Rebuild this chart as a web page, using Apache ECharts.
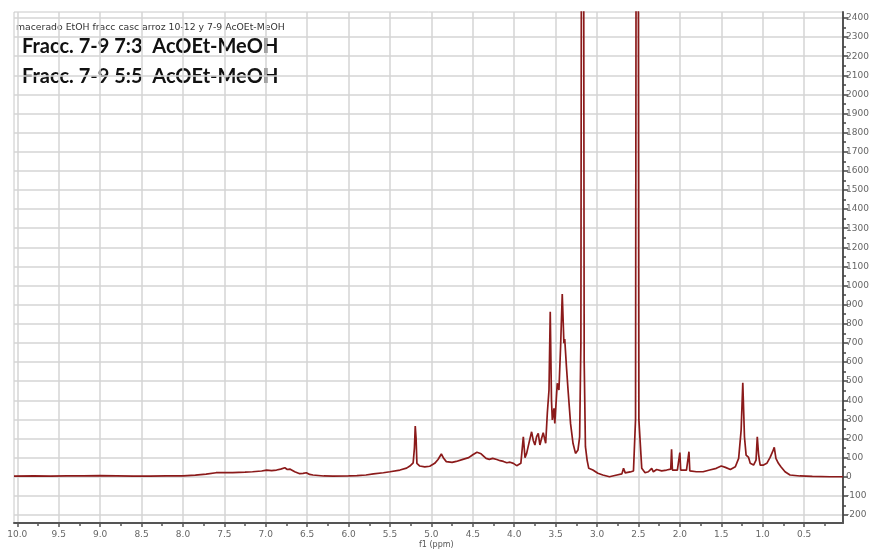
<!DOCTYPE html>
<html>
<head>
<meta charset="utf-8">
<script src="https://cdn.jsdelivr.net/npm/echarts@6/dist/echarts.min.js"></script>
<style>html,body{margin:0;padding:0;background:#fff;}#c{width:876px;height:550px;}</style>
</head>
<body>
<div id="c"></div>
<script>
// Chemical shift (ppm) and intensity
var shifts = [10.04,9.8,9.6,9.4,9.2,9.0,8.8,8.6,8.4,8.2,8.0,7.85,7.72,7.60,7.40,7.25,7.16,7.05,6.99,6.93,6.87,6.82,6.77,6.74,6.71,6.65,6.59,6.55,6.51,6.47,6.43,6.30,6.19,6.00,5.90,5.79,5.70,5.58,5.50,5.38,5.30,5.26,5.22,5.205,5.195,5.185,5.175,5.14,5.08,5.02,4.96,4.92,4.88,4.85,4.82,4.75,4.70,4.62,4.55,4.50,4.45,4.40,4.34,4.30,4.26,4.21,4.17,4.13,4.09,4.05,4.01,3.97,3.95,3.92,3.89,3.87,3.85,3.82,3.79,3.77,3.75,3.73,3.71,3.69,3.67,3.65,3.62,3.60,3.58,3.565,3.55,3.54,3.52,3.51,3.49,3.48,3.46,3.44,3.42,3.40,3.39,3.37,3.35,3.32,3.29,3.26,3.23,3.21,3.195,3.185,3.175,3.165,3.155,3.14,3.12,3.10,3.05,2.99,2.93,2.85,2.76,2.70,2.68,2.66,2.60,2.56,2.535,2.525,2.515,2.505,2.495,2.46,2.42,2.38,2.34,2.32,2.28,2.22,2.16,2.11,2.10,2.09,2.03,2.01,2.00,1.99,1.92,1.90,1.89,1.88,1.80,1.72,1.64,1.56,1.50,1.45,1.39,1.33,1.29,1.26,1.24,1.22,1.20,1.17,1.15,1.11,1.08,1.065,1.05,1.04,1.03,0.99,0.95,0.91,0.88,0.86,0.84,0.81,0.78,0.76,0.73,0.67,0.55,0.40,0.19,0.03];
var intensities = [3,4,3,4,5,6,5,3,3,4,5,8,14,21,21,24,26,30,35,32,35,40,47,38,40,26,16,18,21,12,9,4,3,4,6,9,15,21,26,35,45,56,73,150,265,200,70,56,52,55,70,90,119,95,79,75,80,91,100,115,128,120,96,91,96,90,84,80,73,76,70,58,52,70,209,100,122,180,235,190,166,210,227,166,200,230,175,335,454,863,400,297,358,279,420,489,454,680,956,698,720,580,454,279,175,122,140,209,700,4000,30000,4000,600,157,87,44,35,18,9,0,9,15,44,20,25,30,300,4000,30000,4000,300,44,21,26,44,26,38,31,35,40,143,35,35,40,126,35,35,40,131,31,26,26,35,44,56,49,38,52,96,244,492,209,113,101,70,61,87,209,120,87,61,61,70,101,131,154,96,70,52,49,26,9,4,2,0,0];
var xTicks = [0.5,1.0,1.5,2.0,2.5,3.0,3.5,4.0,4.5,5.0,5.5,6.0,6.5,7.0,7.5,8.0,8.5,9.0,9.5,10.0];
var xMinorTicks = [0.25,0.75,1.25,1.75,2.25,2.75,3.25,3.75,4.25,4.75,5.25,5.75,6.25,6.75,7.25,7.75,8.25,8.75,9.25,9.75];
var yTicks = [-200,-100,0,100,200,300,400,500,600,700,800,900,1000,1100,1200,1300,1400,1500,1600,1700,1800,1900,2000,2100,2200,2300,2400];
var yMinorTicks = [-150,-50,50,150,250,350,450,550,650,750,850,950,1050,1150,1250,1350,1450,1550,1650,1750,1850,1950,2050,2150,2250,2350];
var titleSmall = 'macerado EtOH fracc casc arroz 10-12 y 7-9 AcOEt-MeOH';
var titleLine1 = 'Fracc. 7-9 7:3  AcOEt-MeOH';
var titleLine2 = 'Fracc. 7-9 5:5  AcOEt-MeOH';
var axisName = 'f1 (ppm)';

var data = shifts.map(function (s, i) { return [s, intensities[i]]; });
var X_MIN = 0.03, X_MAX = 10.04, Y_MIN = -242, Y_MAX = 2431;

var chart = echarts.init(document.getElementById('c'), null, {renderer: 'canvas'});
chart.setOption({
  animation: false,
  backgroundColor: '#fff',
  grid: {left: 14, right: 33, top: 12, bottom: 27, show: true, borderColor: '#c8c8c8', borderWidth: 1, backgroundColor: '#fff'},
  xAxis: [{
    type: 'value', min: X_MIN, max: X_MAX, inverse: true, position: 'bottom',
    axisLine: {show: true, onZero: false, lineStyle: {color: '#555', width: 2}},
    axisTick: {show: true, length: 4, customValues: xTicks, lineStyle: {color: '#555', width: 1.5}},
    axisLabel: {show: true, customValues: xTicks, margin: 7, color: '#666', fontSize: 9, fontFamily: 'DejaVu Sans', formatter: function (v) { return v.toFixed(1); }},
    splitLine: {show: true, lineStyle: {color: '#d4d4d4', width: 1.5}}
  }, {
    type: 'value', min: X_MIN, max: X_MAX, inverse: true, position: 'bottom',
    axisLine: {show: false, onZero: false},
    axisTick: {show: true, length: 3, customValues: xMinorTicks, lineStyle: {color: '#555', width: 1.5}},
    axisLabel: {show: false},
    splitLine: {show: false}
  }],
  yAxis: [{
    type: 'value', min: Y_MIN, max: Y_MAX, position: 'right',
    axisLine: {show: true, onZero: false, lineStyle: {color: '#555', width: 2}},
    axisTick: {show: true, length: 5, customValues: yTicks, lineStyle: {color: '#444', width: 1.5}},
    axisLabel: {show: true, customValues: yTicks, margin: 3, color: '#666', fontSize: 9, fontFamily: 'DejaVu Sans', formatter: function (v) { return String(v); }},
    splitLine: {show: true, lineStyle: {color: '#d4d4d4', width: 1.5}}
  }, {
    type: 'value', min: Y_MIN, max: Y_MAX, position: 'right',
    axisLine: {show: false, onZero: false},
    axisTick: {show: true, length: 3, customValues: yMinorTicks, lineStyle: {color: '#444', width: 1.5}},
    axisLabel: {show: false},
    splitLine: {show: false}
  }],
  series: [{
    type: 'line', xAxisIndex: 0, yAxisIndex: 0, data: data,
    showSymbol: false, symbol: 'none', clip: true,
    lineStyle: {color: '#8b1a1a', width: 1.7},
    z: 5
  }],
  graphic: [
    {type: 'text', left: 16, top: 23, style: {text: titleSmall, fontSize: 9.3, fontFamily: 'DejaVu Sans', fill: '#333'}},
    {type: 'text', left: 22, top: 37, style: {text: titleLine1, fontSize: 20, fontWeight: 'bold', fontFamily: 'Lato', fill: '#111'}},
    {type: 'text', left: 22, top: 67, style: {text: titleLine2, fontSize: 20, fontWeight: 'bold', fontFamily: 'Lato', fill: '#111'}},
    {type: 'text', left: 419, top: 541, style: {text: axisName, fontSize: 8, fontFamily: 'DejaVu Sans', fill: '#555'}}
  ]
});
</script>
</body>
</html>
